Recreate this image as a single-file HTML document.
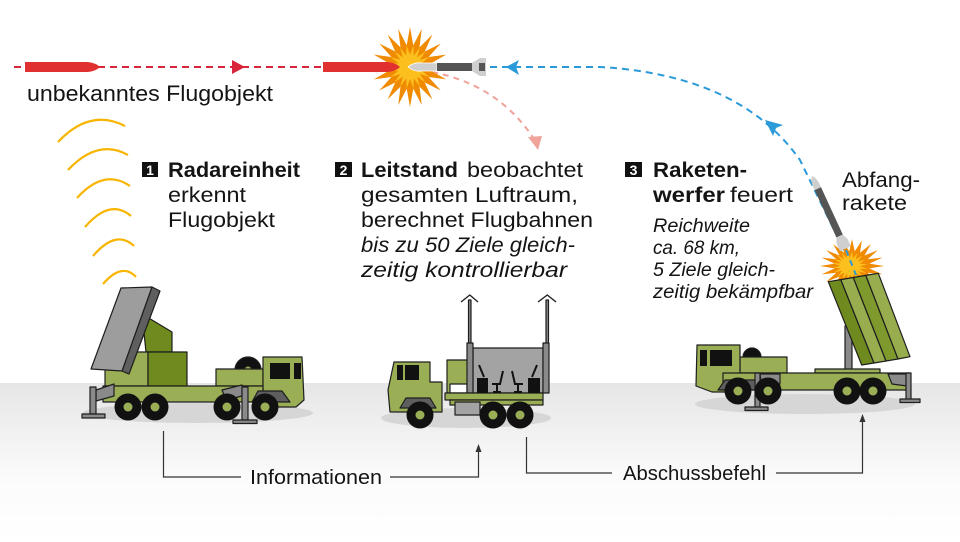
<!DOCTYPE html>
<html><head><meta charset="utf-8"><style>
html,body{margin:0;padding:0;background:#fff;}
svg{display:block;}
.t{font-family:"Liberation Sans",sans-serif;fill:#141414;}
</style></head><body>
<svg width="960" height="542" viewBox="0 0 960 542" xmlns="http://www.w3.org/2000/svg">
<defs>
<linearGradient id="gr" x1="0" y1="0" x2="0" y2="1">
<stop offset="0" stop-color="#e6e6e6"/><stop offset="0.6" stop-color="#fbfbfb"/><stop offset="1" stop-color="#ffffff"/>
</linearGradient>
</defs>
<rect x="0" y="0" width="960" height="542" fill="#fff"/>
<rect x="0" y="383" width="960" height="159" fill="url(#gr)"/>

<!-- red track -->
<line x1="14" y1="67" x2="325" y2="67" stroke="#d9253c" stroke-width="2" stroke-dasharray="7 5"/>
<polygon points="232,60 245,67 232,74" fill="#d9253c"/>
<path d="M25,62 H88 Q96,63 100,67 Q96,71 88,72 H25 Z" fill="#e03030"/>
<!-- pink curve -->
<path d="M432,72 Q500,85 536,142" fill="none" stroke="#f0a39a" stroke-width="2" stroke-dasharray="6 5"/>
<polygon points="528,137 542,136 538,150" fill="#f0a39a"/>
<!-- blue curve -->
<path d="M490,67 L600,67 Q740,75 800,160 L856,275" fill="none" stroke="#2a9ad8" stroke-width="2" stroke-dasharray="7 5"/>
<polygon points="506,67 519,60 516,67 519,75" fill="#2a9ad8"/>
<polygon points="765,120 783,125 776,128 773,136" fill="#2a9ad8"/>

<!-- explosion -->
<g transform="translate(410,67) scale(38,40)">
<polygon fill="#f08a00" points="1,0 .543,.086 .951,.309 .49,.25 .809,.588 .389,.389 .588,.809 .25,.49 .309,.951 .086,.543 0,1 -.086,.543 -.309,.951 -.25,.49 -.588,.809 -.389,.389 -.809,.588 -.49,.25 -.951,.309 -.543,.086 -1,0 -.543,-.086 -.951,-.309 -.49,-.25 -.809,-.588 -.389,-.389 -.588,-.809 -.25,-.49 -.309,-.951 -.086,-.543 0,-1 .086,-.543 .309,-.951 .25,-.49 .588,-.809 .389,-.389 .809,-.588 .49,-.25 .951,-.309 .543,-.086"/>
</g>
<g transform="translate(410,67) rotate(9) scale(22,22)">
<polygon fill="#fbbf1e" points="1,0 .543,.086 .951,.309 .49,.25 .809,.588 .389,.389 .588,.809 .25,.49 .309,.951 .086,.543 0,1 -.086,.543 -.309,.951 -.25,.49 -.588,.809 -.389,.389 -.809,.588 -.49,.25 -.951,.309 -.543,.086 -1,0 -.543,-.086 -.951,-.309 -.49,-.25 -.809,-.588 -.389,-.389 -.588,-.809 -.25,-.49 -.309,-.951 -.086,-.543 0,-1 .086,-.543 .309,-.951 .25,-.49 .588,-.809 .389,-.389 .809,-.588 .49,-.25 .951,-.309 .543,-.086"/>
</g>
<path d="M323,62 H388 Q396,63 400,67 Q396,71 388,72 H323 Z" fill="#e03030"/>
<!-- interceptor top -->
<path d="M408,67 Q414,62 422,63 H437 V71 H422 Q414,72 408,67 Z" fill="#cfcfcf" stroke="#fff" stroke-width="0.8"/>
<rect x="437" y="63" width="45" height="8" fill="#555"/>
<polygon points="472,63 480,58 486,58 486,76 480,76 472,71" fill="#cfcfcf"/>
<rect x="479" y="63" width="6" height="8" fill="#555"/>

<!-- label -->
<text class="t" x="27" y="101" font-size="22" textLength="246" lengthAdjust="spacingAndGlyphs">unbekanntes Flugobjekt</text>

<!-- radar arcs -->
<g fill="none" stroke="#f7b500" stroke-width="2.2">
<path d="M58,142 Q90,108 125,126"/>
<path d="M68,170 Q98,138 128,155"/>
<path d="M77,198 Q104,168 130,186"/>
<path d="M85,227 Q110,198 131,216"/>
<path d="M93,256 Q116,229 134,246"/>
<path d="M103,284 Q122,262 136,277"/>
</g>

<!-- texts block 1 -->
<rect x="142" y="162" width="16" height="15" fill="#111"/>
<text x="150" y="175" font-family="Liberation Sans, sans-serif" font-weight="bold" font-size="14" fill="#fff" text-anchor="middle">1</text>
<text class="t" x="168" y="177" font-size="21" font-weight="bold" textLength="132" lengthAdjust="spacingAndGlyphs">Radareinheit</text>
<text class="t" x="168" y="202" font-size="21" textLength="78" lengthAdjust="spacingAndGlyphs">erkennt</text>
<text class="t" x="168" y="227" font-size="21" textLength="107" lengthAdjust="spacingAndGlyphs">Flugobjekt</text>

<!-- block 2 -->
<rect x="335" y="162" width="17" height="15" fill="#111"/>
<text x="343.5" y="175" font-family="Liberation Sans, sans-serif" font-weight="bold" font-size="14" fill="#fff" text-anchor="middle">2</text>
<text class="t" x="361" y="177" font-size="21" font-weight="bold" textLength="97" lengthAdjust="spacingAndGlyphs">Leitstand</text>
<text class="t" x="467" y="177" font-size="21" textLength="116" lengthAdjust="spacingAndGlyphs">beobachtet</text>
<text class="t" x="361" y="202" font-size="21" textLength="217" lengthAdjust="spacingAndGlyphs">gesamten Luftraum,</text>
<text class="t" x="361" y="227" font-size="21" textLength="232" lengthAdjust="spacingAndGlyphs">berechnet Flugbahnen</text>
<text class="t" x="361" y="252" font-size="21" font-style="italic" textLength="214" lengthAdjust="spacingAndGlyphs">bis zu 50 Ziele gleich-</text>
<text class="t" x="361" y="277" font-size="21" font-style="italic" textLength="206" lengthAdjust="spacingAndGlyphs">zeitig kontrollierbar</text>

<!-- block 3 -->
<rect x="625" y="162" width="17" height="15" fill="#111"/>
<text x="633.5" y="175" font-family="Liberation Sans, sans-serif" font-weight="bold" font-size="14" fill="#fff" text-anchor="middle">3</text>
<text class="t" x="653" y="177" font-size="21" font-weight="bold" textLength="94" lengthAdjust="spacingAndGlyphs">Raketen-</text>
<text class="t" x="653" y="202" font-size="21" font-weight="bold" textLength="72" lengthAdjust="spacingAndGlyphs">werfer</text>
<text class="t" x="730" y="202" font-size="21" textLength="63" lengthAdjust="spacingAndGlyphs">feuert</text>
<text class="t" x="653" y="232" font-size="19" font-style="italic" textLength="97" lengthAdjust="spacingAndGlyphs">Reichweite</text>
<text class="t" x="653" y="254" font-size="19" font-style="italic" textLength="87" lengthAdjust="spacingAndGlyphs">ca. 68 km,</text>
<text class="t" x="653" y="276" font-size="19" font-style="italic" textLength="122" lengthAdjust="spacingAndGlyphs">5 Ziele gleich-</text>
<text class="t" x="653" y="298" font-size="19" font-style="italic" textLength="160" lengthAdjust="spacingAndGlyphs">zeitig bekämpfbar</text>

<text class="t" x="842" y="187" font-size="21" textLength="78" lengthAdjust="spacingAndGlyphs">Abfang-</text>
<text class="t" x="842" y="210" font-size="21" textLength="65" lengthAdjust="spacingAndGlyphs">rakete</text>

<!-- ===== Radar truck ===== -->
<ellipse cx="198" cy="413" rx="115" ry="10" fill="#d6d6d6"/>
<g stroke="#1e1e1e" stroke-width="1.2" stroke-linejoin="round">
<polygon points="142,314 172,332 172,352 146,352" fill="#6f8a1f"/>
<rect x="105" y="352" width="43" height="34" fill="#9aae55"/>
<rect x="148" y="352" width="39" height="34" fill="#6f8a1f"/>
<circle cx="248" cy="370" r="13" fill="#111"/>
<circle cx="248" cy="370" r="4" fill="#9aae55"/>
<rect x="216" y="369" width="47" height="17" fill="#9aae55"/>
<polygon points="263,357 302,357 304,400 296,407 263,407" fill="#9aae55"/>
<rect x="103" y="386" width="160" height="16" fill="#9aae55"/>
<polygon points="96,390 114,384 114,396 96,401" fill="#8a8a8a"/>
<polygon points="222,390 242,385 242,396 226,400" fill="#8a8a8a"/>
<polygon points="252,402 258,391 282,391 290,402" fill="#5e5e5e"/>
<rect x="90" y="387" width="6" height="27" fill="#8a8a8a"/>
<rect x="82" y="414" width="23" height="4" fill="#8a8a8a"/>
<rect x="242" y="387" width="6" height="33" fill="#8a8a8a"/>
<rect x="233" y="420" width="24" height="3.5" fill="#8a8a8a"/>
<!-- radar panel -->
<polygon points="152,287 160,291 129,374 122,371" fill="#5f5f5f"/>
<polygon points="121,288 152,287 122,371 91,369" fill="#9d9d9d"/>
</g>
<rect x="270" y="363" width="20" height="16" fill="#111"/>
<rect x="294" y="363" width="7" height="16" fill="#111"/>
<g fill="#111">
<circle cx="128" cy="407" r="13.5"/><circle cx="155" cy="407" r="13.5"/>
<circle cx="227" cy="407" r="13.5"/><circle cx="265" cy="407" r="13.5"/>
</g>
<g fill="#9aae55">
<circle cx="128" cy="407" r="4.5"/><circle cx="155" cy="407" r="4.5"/>
<circle cx="227" cy="407" r="4.5"/><circle cx="265" cy="407" r="4.5"/>
</g>

<!-- ===== Leitstand ===== -->
<ellipse cx="466" cy="418" rx="85" ry="10" fill="#d6d6d6"/>
<g stroke="#1e1e1e" stroke-width="1.2" stroke-linejoin="round">
<rect x="468.5" y="300" width="2.5" height="45" fill="#8a8a8a"/>
<rect x="546" y="300" width="2.5" height="45" fill="#8a8a8a"/>
<rect x="447" y="360" width="21" height="33" fill="#9aae55"/>
<rect x="450" y="384" width="17" height="9" fill="#fff"/>
<rect x="473" y="348" width="70" height="45" fill="#a3a3a3"/>
<rect x="467" y="343" width="6" height="50" fill="#8a8a8a"/>
<rect x="543" y="343" width="6" height="50" fill="#8a8a8a"/>
<polygon points="394,362 430,362 430,382 442,382 442,412 390,412 388,390" fill="#9aae55"/>
<rect x="445" y="393" width="98" height="7" fill="#9aae55"/>
<rect x="450" y="400" width="93" height="5" fill="#9aae55"/>
<rect x="455" y="402" width="25" height="13" fill="#a3a3a3"/>
<polygon points="400,408 406,398 430,398 436,408" fill="#5e5e5e"/>
</g>
<g stroke="#222" stroke-width="1.4" fill="none">
<path d="M461,302 L469.8,295 L478,302"/>
<path d="M538,302 L547.3,295 L556,302"/>
</g>
<rect x="477" y="378" width="11" height="15" fill="#111"/>
<rect x="528" y="378" width="12" height="15" fill="#111"/>
<g stroke="#111" stroke-width="2" fill="none">
<path d="M479,365 L484,377"/>
<path d="M537,365 L532,377"/>
<path d="M503,371 L500,384 H492 M497,384 V392 M493,392 H501"/>
<path d="M512,371 L515,384 H523 M518,384 V392 M514,392 H522"/>
</g>
<rect x="397" y="365" width="6" height="15" fill="#111"/>
<rect x="405" y="365" width="14" height="15" fill="#111"/>
<g fill="#111"><circle cx="420" cy="415" r="13.5"/><circle cx="493" cy="415" r="13.5"/><circle cx="520" cy="415" r="13.5"/></g>
<g fill="#9aae55"><circle cx="420" cy="415" r="4.5"/><circle cx="493" cy="415" r="4.5"/><circle cx="520" cy="415" r="4.5"/></g>

<!-- ===== Launcher ===== -->
<ellipse cx="805" cy="404" rx="110" ry="10" fill="#d6d6d6"/>
<!-- flame -->
<g transform="translate(852,266) scale(32,27)">
<polygon fill="#f08a00" points="1,0 .543,.086 .951,.309 .49,.25 .809,.588 .389,.389 .588,.809 .25,.49 .309,.951 .086,.543 0,1 -.086,.543 -.309,.951 -.25,.49 -.588,.809 -.389,.389 -.809,.588 -.49,.25 -.951,.309 -.543,.086 -1,0 -.543,-.086 -.951,-.309 -.49,-.25 -.809,-.588 -.389,-.389 -.588,-.809 -.25,-.49 -.309,-.951 -.086,-.543 0,-1 .086,-.543 .309,-.951 .25,-.49 .588,-.809 .389,-.389 .809,-.588 .49,-.25 .951,-.309 .543,-.086"/>
</g>
<g transform="translate(850,266) rotate(9) scale(18,15)">
<polygon fill="#fbbf1e" points="1,0 .543,.086 .951,.309 .49,.25 .809,.588 .389,.389 .588,.809 .25,.49 .309,.951 .086,.543 0,1 -.086,.543 -.309,.951 -.25,.49 -.588,.809 -.389,.389 -.809,.588 -.49,.25 -.951,.309 -.543,.086 -1,0 -.543,-.086 -.951,-.309 -.49,-.25 -.809,-.588 -.389,-.389 -.588,-.809 -.25,-.49 -.309,-.951 -.086,-.543 0,-1 .086,-.543 .309,-.951 .25,-.49 .588,-.809 .389,-.389 .809,-.588 .49,-.25 .951,-.309 .543,-.086"/>
</g>
<line x1="846" y1="250" x2="856" y2="275" stroke="#2a9ad8" stroke-width="2" stroke-dasharray="6 5"/>
<!-- missile -->
<g transform="translate(812,176) rotate(65.3)">
<path d="M0,0 Q4,-3.5 10,-3.5 H14 V3.5 H10 Q4,3.5 0,0 Z" fill="#cfcfcf"/>
<rect x="14" y="-3.5" width="56" height="7" fill="#555"/>
<polygon points="66,-3.5 72,-6 80,-6 80,6 72,6 66,3.5" fill="#cfcfcf"/>
</g>
<g stroke="#1e1e1e" stroke-width="1.2" stroke-linejoin="round">
<circle cx="752" cy="357" r="9" fill="#111"/>
<rect x="740" y="357" width="47" height="16" fill="#9aae55"/>
<polygon points="697,345 740,345 740,392 712,392 696,386" fill="#9aae55"/>
<rect x="845" y="326" width="7" height="44" fill="#8a8a8a"/>
<rect x="815" y="369" width="65" height="4" fill="#9aae55"/>
<rect x="723" y="373" width="187" height="17" fill="#9aae55"/>
<polygon points="718,390 725,380 760,380 768,390" fill="#5e5e5e"/>
<polygon points="760,374 780,374 780,384 762,388" fill="#8a8a8a"/>
<polygon points="888,374 907,374 907,386 892,384" fill="#8a8a8a"/>
<rect x="755" y="373" width="5" height="35" fill="#8a8a8a"/>
<rect x="745" y="407" width="23" height="3.5" fill="#8a8a8a"/>
<rect x="906" y="373" width="5" height="27" fill="#8a8a8a"/>
<rect x="900" y="399" width="20" height="3.5" fill="#8a8a8a"/>
<!-- launcher box -->
<polygon points="828.3,281.7 840.8,279.6 874,363 861.7,365" fill="#6f8a1f"/>
<polygon points="840.8,279.6 853.3,277.5 886,361 874,363" fill="#98ad4e"/>
<polygon points="853.3,277.5 865.8,275.4 898,359 886,361" fill="#7f9a2c"/>
<polygon points="865.8,275.4 878.3,273.3 910,356.7 898,359" fill="#98ad4e"/>
</g>
<rect x="700" y="350" width="7" height="16" fill="#111"/>
<rect x="710" y="350" width="22" height="16" fill="#111"/>
<g fill="#111"><circle cx="738" cy="391" r="13.5"/><circle cx="768" cy="391" r="13.5"/><circle cx="847" cy="391" r="13.5"/><circle cx="873" cy="391" r="13.5"/></g>
<g fill="#9aae55"><circle cx="738" cy="391" r="4.5"/><circle cx="768" cy="391" r="4.5"/><circle cx="847" cy="391" r="4.5"/><circle cx="873" cy="391" r="4.5"/></g>

<!-- bottom connectors -->
<g stroke="#333" stroke-width="1.2" fill="none">
<path d="M163.5,431 V477 H241"/>
<path d="M390,477 H478.5 V450"/>
<path d="M526.5,437 V473 H612"/>
<path d="M776,473 H862.5 V420"/>
</g>
<polygon points="478.5,444 475.5,452 481.5,452" fill="#333"/>
<polygon points="862.5,414 859.5,422 865.5,422" fill="#333"/>
<text class="t" x="250" y="484" font-size="20" textLength="132" lengthAdjust="spacingAndGlyphs">Informationen</text>
<text class="t" x="623" y="480" font-size="20" textLength="143" lengthAdjust="spacingAndGlyphs">Abschussbefehl</text>
</svg>
</body></html>
